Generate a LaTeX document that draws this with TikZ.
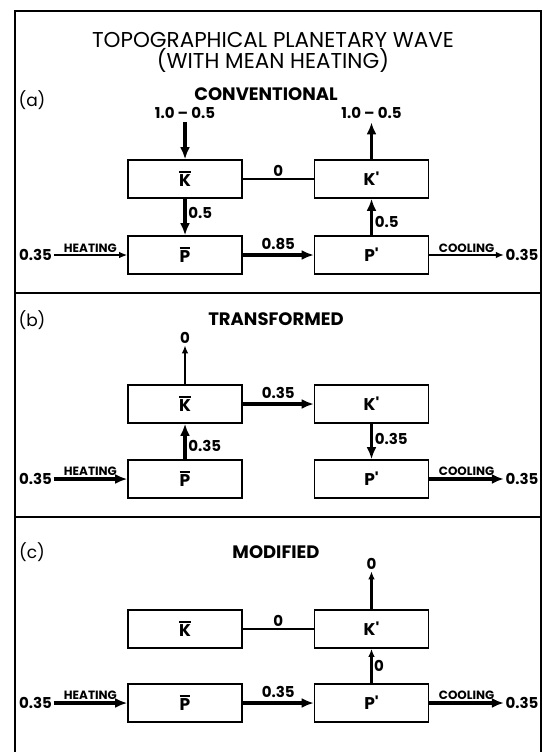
\documentclass[tikz,border=0pt]{standalone}
\usepackage{fontspec}
\setmainfont{Poppins}
\usetikzlibrary{arrows.meta}

\newcommand\barred[1]{\vbox{\hrule height 1.7pt\kern1.8pt\hbox{#1}}}
\newcommand\primed[1]{#1\textquotesingle}

\begin{document}
\begin{tikzpicture}[
    x=1pt, y=-1pt,
    >={Latex[length=12pt,width=10pt]},
    box/.style={
        draw, line width=1.6pt, rectangle, minimum width=114pt,
        minimum height=38pt, inner sep=0pt,
        font=\fontsize{17}{17}\selectfont\bfseries
    },
    heading/.style={font=\fontsize{18}{18}\selectfont\bfseries},
    panel/.style={font=\fontsize{17}{17}\selectfont},
    num/.style={font=\fontsize{15}{15}\selectfont\bfseries, inner sep=1.5pt},
    tag/.style={font=\fontsize{12}{12}\selectfont\bfseries, inner sep=1.5pt},
    fat/.style={->, line width=3.8pt},
    slim/.style={-{Latex[length=8pt,width=6.5pt]}, line width=1.4pt},
    mid/.style={-{Latex[length=8pt,width=6.5pt]}, line width=2.2pt},
    link/.style={line width=1.4pt},
    frame/.style={line width=2pt}
]
\useasboundingbox (0,0) rectangle (542,752);

% frame and panel dividers
\draw[frame] (15,752) -- (15,11) -- (541,11) -- (541,752);
\draw[frame] (15,293) -- (541,293);
\draw[frame] (15,517) -- (541,517);

\node[align=center, font=\fontsize{21.5}{21}\selectfont] (title) at (273,52)
    {TOPOGRAPHICAL PLANETARY WAVE\\(WITH MEAN HEATING)};

% (a) conventional
\node[panel] (tagA) at (32,100) {(a)};
\node[heading] (headA) at (266,94) {CONVENTIONAL};
\node[box] (KbarA) at (185,179) {\barred{K}};
\node[box] (KprimeA) at (371.5,179) {\primed{K}};
\node[box] (PbarA) at (185,255) {\barred{P}};
\node[box] (PprimeA) at (371.5,255) {\primed{P}};
\node[num] (inA) at (185,113) {1.0 -- 0.5};
\node[num] (outA) at (371.5,113) {1.0 -- 0.5};
\node[num] (heatA) at (35.5,255) {0.35};
\node[num] (coolA) at (522,255) {0.35};

\draw[fat, shorten <=2pt] (inA) -- (KbarA);
\draw[fat, shorten >=2pt] (KprimeA) -- (outA);
\draw[link] (KbarA) -- (KprimeA) node[midway, above, num] (zeroA) {0};
\draw[fat] (KbarA) -- (PbarA) node[pos=0.38, right, num] (downA) {0.5};
\draw[fat] (PprimeA) -- (KprimeA) node[pos=0.35, right, num] (upA) {0.5};
\draw[fat] (PbarA) -- (PprimeA) node[midway, above=2pt, num] (acrossA) {0.85};
\draw[slim] (heatA) -- (PbarA) node[midway, above, tag] (heatlabA) {HEATING};
\draw[slim] (PprimeA) -- (coolA) node[midway, above, tag] (coollabA) {COOLING};

% (b) transformed
\node[panel] (tagB) at (32,320) {(b)};
\node[heading] (headB) at (276,319) {TRANSFORMED};
\node[box] (KbarB) at (185,404) {\barred{K}};
\node[box] (KprimeB) at (371.5,404) {\primed{K}};
\node[box] (PbarB) at (185,479) {\barred{P}};
\node[box] (PprimeB) at (371.5,479) {\primed{P}};
\node[num] (outB) at (185,338) {0};
\node[num] (heatB) at (35.5,479) {0.35};
\node[num] (coolB) at (522,479) {0.35};

\draw[slim, line width=1.8pt] (KbarB) -- (outB);
\draw[fat] (PbarB) -- (KbarB) node[pos=0.38, right, num] (upB) {0.35};
\draw[fat] (KbarB) -- (KprimeB) node[midway, above=2pt, num] (acrossB) {0.35};
\draw[fat] (KprimeB) -- (PprimeB) node[pos=0.43, right, num] (downB) {0.35};
\draw[fat] (heatB) -- (PbarB) node[midway, above, tag] (heatlabB) {HEATING};
\draw[fat] (PprimeB) -- (coolB) node[midway, above, tag] (coollabB) {COOLING};

% (c) modified
\node[panel] (tagC) at (32,552) {(c)};
\node[heading] (headC) at (276,552) {MODIFIED};
\node[box] (KbarC) at (185,629) {\barred{K}};
\node[box] (KprimeC) at (371.5,629) {\primed{K}};
\node[box] (PbarC) at (185,703) {\barred{P}};
\node[box] (PprimeC) at (371.5,703) {\primed{P}};
\node[num] (outC) at (371.5,564) {0};
\node[num] (heatC) at (35.5,703) {0.35};
\node[num] (coolC) at (522,703) {0.35};

\draw[mid, line width=2.6pt] (KprimeC) -- (outC);
\draw[link] (KbarC) -- (KprimeC) node[midway, above, num] (zeroC) {0};
\draw[mid] (PprimeC) -- (KprimeC) node[midway, right, num] (upC) {0};
\draw[fat] (PbarC) -- (PprimeC) node[midway, above=2pt, num] (acrossC) {0.35};
\draw[fat] (heatC) -- (PbarC) node[midway, above, tag] (heatlabC) {HEATING};
\draw[fat] (PprimeC) -- (coolC) node[midway, above, tag] (coollabC) {COOLING};
\end{tikzpicture}
\end{document}
